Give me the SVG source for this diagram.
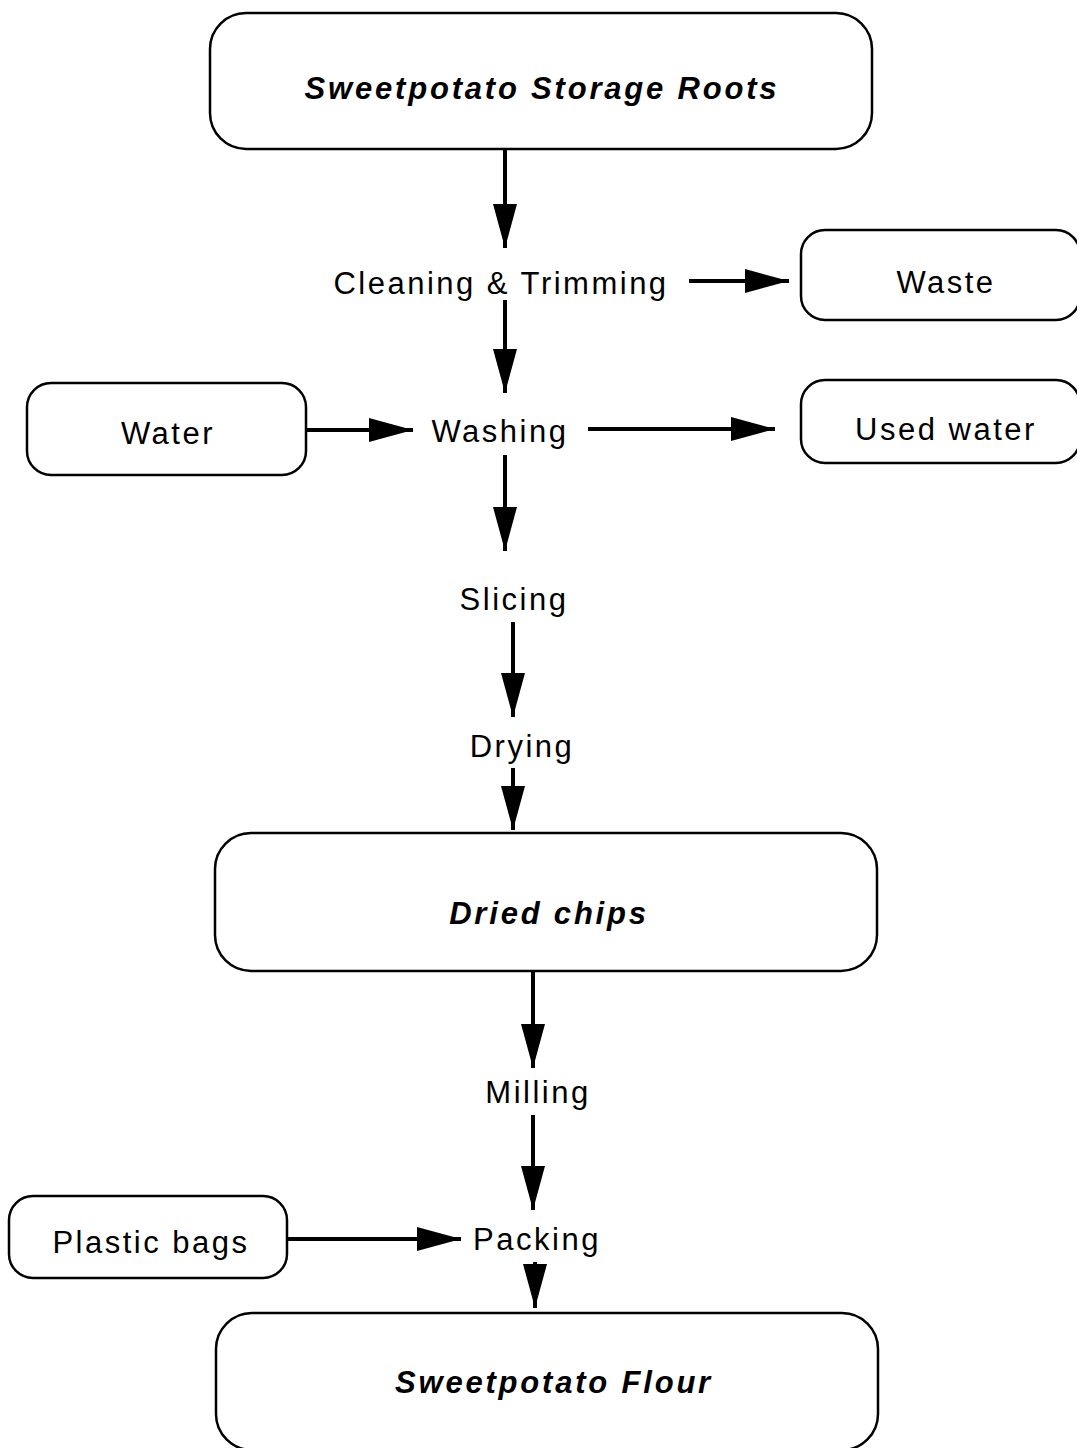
<svg xmlns="http://www.w3.org/2000/svg" width="1077" height="1448" viewBox="0 0 1077 1448">
<defs>
<style>
.box{fill:#fff;stroke:#000;stroke-width:2.5}
.t{font-family:"Liberation Sans",Arial,sans-serif;font-size:31px;fill:#000;letter-spacing:2.5px;text-anchor:middle}
.b{font-weight:bold;font-style:italic;letter-spacing:2.8px}
.c{stroke:#000;stroke-width:4;fill:none}
</style>
<marker id="ah" viewBox="0 0 44 24" refX="44" refY="12" markerWidth="44" markerHeight="24" markerUnits="userSpaceOnUse" orient="auto">
<path d="M0,0 L44,12 L0,24 Z" fill="#000"/>
</marker>
</defs>
<rect width="1077" height="1448" fill="#fff"/>
<g id="connectors">
<line class="c" x1="505" y1="149" x2="505" y2="248" marker-end="url(#ah)"/>
<line class="c" x1="689" y1="281" x2="789" y2="281" marker-end="url(#ah)"/>
<line class="c" x1="505" y1="300" x2="505" y2="393" marker-end="url(#ah)"/>
<line class="c" x1="306" y1="430" x2="413" y2="430" marker-end="url(#ah)"/>
<line class="c" x1="588" y1="429" x2="775" y2="429" marker-end="url(#ah)"/>
<line class="c" x1="505" y1="455" x2="505" y2="551" marker-end="url(#ah)"/>
<line class="c" x1="513" y1="622" x2="513" y2="717" marker-end="url(#ah)"/>
<line class="c" x1="513" y1="768" x2="513" y2="830" marker-end="url(#ah)"/>
<line class="c" x1="533" y1="971" x2="533" y2="1068" marker-end="url(#ah)"/>
<line class="c" x1="533" y1="1115" x2="533" y2="1210" marker-end="url(#ah)"/>
<line class="c" x1="287" y1="1239" x2="461" y2="1239" marker-end="url(#ah)"/>
<line class="c" x1="535" y1="1262" x2="535" y2="1308" marker-end="url(#ah)"/>
</g>
<g id="roots">
<rect class="box" x="210" y="13" width="662" height="136" rx="36"/>
<text class="t b" x="542" y="99">Sweetpotato Storage Roots</text>
</g>
<g id="cleaning"><text class="t" x="501" y="294">Cleaning &amp; Trimming</text></g>
<g id="waste">
<rect class="box" x="801" y="230" width="279" height="90" rx="24"/>
<text class="t" x="946" y="293">Waste</text>
</g>
<g id="water">
<rect class="box" x="27" y="383" width="279" height="92" rx="24"/>
<text class="t" x="168" y="444">Water</text>
</g>
<g id="washing"><text class="t" x="500" y="442">Washing</text></g>
<g id="usedwater">
<rect class="box" x="801" y="380" width="279" height="83" rx="24"/>
<text class="t" x="946" y="440">Used water</text>
</g>
<g id="slicing"><text class="t" x="514" y="610">Slicing</text></g>
<g id="drying"><text class="t" x="522" y="757">Drying</text></g>
<g id="driedchips">
<rect class="box" x="215" y="833" width="662" height="138" rx="36"/>
<text class="t b" x="549" y="924">Dried chips</text>
</g>
<g id="milling"><text class="t" x="538" y="1103">Milling</text></g>
<g id="plasticbags">
<rect class="box" x="9" y="1196" width="278" height="82" rx="24"/>
<text class="t" x="151" y="1253">Plastic bags</text>
</g>
<g id="packing"><text class="t" x="537" y="1250">Packing</text></g>
<g id="flour">
<rect class="box" x="216" y="1313" width="662" height="137" rx="36"/>
<text class="t b" x="554" y="1393">Sweetpotato Flour</text>
</g>
</svg>
